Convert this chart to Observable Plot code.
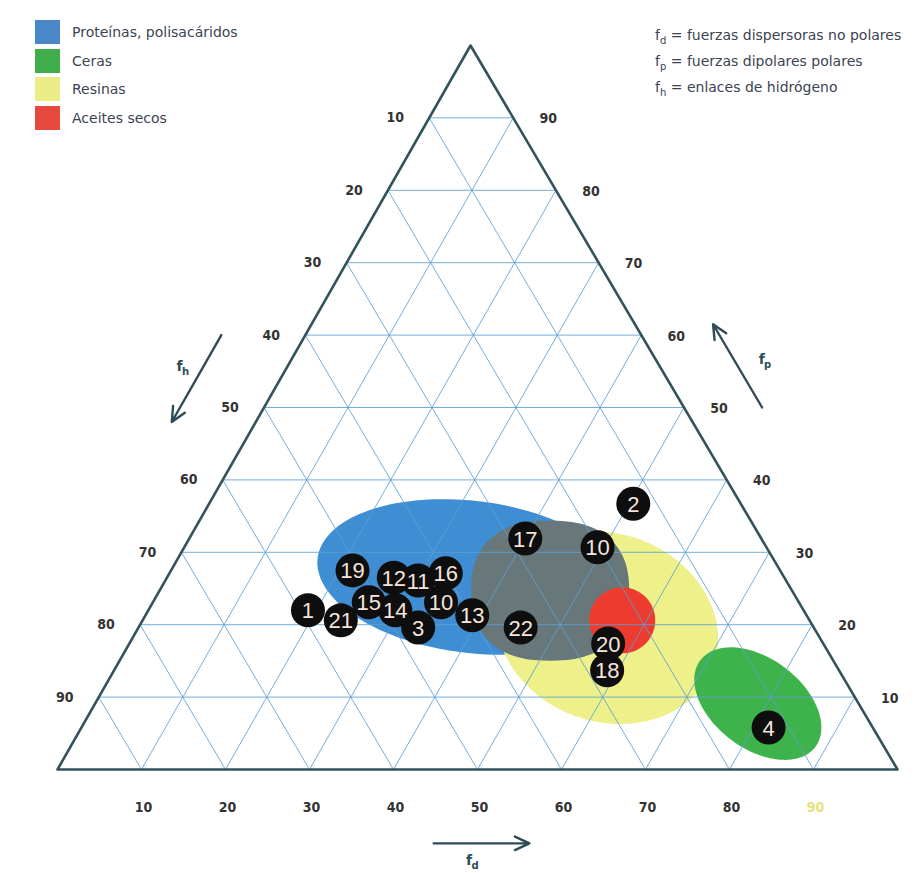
<!DOCTYPE html>
<html><head><meta charset="utf-8">
<script src="https://cdn.jsdelivr.net/npm/d3@7"></script>
<script src="https://cdn.jsdelivr.net/npm/@observablehq/plot@0.6"></script>
<style>
body{margin:0;background:#fff;font-family:"DejaVu Sans",sans-serif;}
#wrap{position:relative;width:921px;height:873px;overflow:hidden;}
#wrap svg{position:absolute;left:0;top:0;}
.legend{position:absolute;left:35px;top:18px;font-size:14px;color:#3b4452;font-family:"DejaVu Sans",sans-serif;}
.legend .row{display:flex;align-items:center;height:28.5px;}
.legend .sw{width:25px;height:24px;margin-right:12px;}
.notes{position:absolute;left:655px;top:22px;font-size:14px;color:#3b4452;font-family:"DejaVu Sans",sans-serif;}
.notes div{height:26px;line-height:26px;white-space:nowrap;}
.notes sub{font-size:10px;line-height:0;vertical-align:-4px;}
</style></head><body><div id="wrap"></div>
<script>
// ---- data ----
const tickValues = [10, 20, 30, 40, 50, 60, 70, 80, 90];

const pointLabels = ["2","17","10","19","12","11","16","1","21","15","14","3","10","13","22","20","18","4"];
const pointFd     = [50.5, 40.0, 49.2, 21.6, 27.0, 30.1, 32.9, 19.0, 23.6, 25.7, 29.4, 33.3, 34.3, 38.9, 45.5, 57.0, 58.7, 81.8];
const pointFp     = [36.7, 31.9, 30.7, 27.5, 26.5, 26.1, 27.1, 22.0, 20.6, 23.1, 22.0, 19.6, 23.1, 21.3, 19.6, 17.4, 13.7, 5.8];

const legendNames  = ["Proteínas, polisacáridos", "Ceras", "Resinas", "Aceites secos"];
const legendColors = ["#4a88c9", "#3fae4a", "#ecec86", "#e6493d"];

const noteSymbols = ["d", "p", "h"];
const noteTexts   = ["fuerzas dispersoras no polares", "fuerzas dipolares polares", "enlaces de hidrógeno"];

const regionNames = ["blue", "yellow", "grey", "red", "green"];
const regionFd    = [36.2, 55.8, 46.5, 57.1, 78.9];
const regionFp    = [26.6, 19.6, 24.7, 20.6, 9.1];

// ---- styles / geometry ----
const regionStyle = {
  blue:   {fill: "#3f8ed3", a: 155, b: 76, rot: 7,  n: 2},
  yellow: {fill: "#eef08a", a: 113, b: 94, rot: 20, n: 2},
  grey:   {fill: "#68787a", a: 79,  b: 70, rot: 0,  n: 2.4},
  red:    {fill: "#ee3b2f", a: 33,  b: 33, rot: 0,  n: 2},
  green:  {fill: "#3fb34b", a: 72,  b: 45, rot: 37, n: 2}
};
const PXX = 8.4, PXY = 7.24, K = 0.4917;
const tx = (fd, fp) => fd + K * fp;
const ty = (fd, fp) => fp;

const points = pointLabels.map((l, i) => ({label: l, fd: pointFd[i], fp: pointFp[i]}));

function outline(name, fd, fp) {
  const s = regionStyle[name];
  const th = s.rot * Math.PI / 180, e = 2 / s.n;
  const pts = [];
  for (let i = 0; i < 120; i++) {
    const t = i / 120 * 2 * Math.PI;
    const c = Math.cos(t), si = Math.sin(t);
    const ex = s.a * Math.sign(c) * Math.pow(Math.abs(c), e);
    const ey = s.b * Math.sign(si) * Math.pow(Math.abs(si), e);
    const dx = ex * Math.cos(th) - ey * Math.sin(th);
    const dy = ex * Math.sin(th) + ey * Math.cos(th);
    pts.push({x: tx(fd, fp) + dx / PXX, y: ty(fd, fp) - dy / PXY});
  }
  return pts;
}

// grid lines in ternary terms
const grid = [];
tickValues.forEach(k => {
  grid.push({fd1: 0, fp1: k, fd2: 100 - k, fp2: k});          // constant fp
  grid.push({fd1: k, fp1: 0, fd2: k, fp2: 100 - k});          // constant fd
  grid.push({fd1: 100 - k, fp1: 0, fd2: 0, fp2: 100 - k});    // constant fh
});
const border = [{fd: 0, fp: 0}, {fd: 100, fp: 0}, {fd: 0, fp: 100}];

const leftTicks = tickValues.map(k => ({k, fd: 0, fp: 100 - k}));
const rightTicks = tickValues.map(k => ({k, fd: 100 - k, fp: k}));
const bottomTicks = tickValues.map(k => ({k, fd: k, fp: 0}));

const arrows = [
  {fd1: -10, fp1: 60, fd2: -10, fp2: 48},        // f_h
  {fd1: 59.3, fp1: 50, fd2: 47.8, fp2: 61.5},    // f_p
  {fd1: 49.8, fp1: -10.2, fd2: 61.2, fp2: -10.2} // f_d
];
const arrowLabels = [
  {sub: "h", fd: -12.8, fp: 55.6},
  {sub: "p", fd: 56.0, fp: 56.6},
  {sub: "d", fd: 55.2, fp: -12.6}
];

const tickFont = "DejaVu Sans Condensed, DejaVu Sans";
const marks = [];
regionNames.forEach((n, i) => {
  marks.push(Plot.line(outline(n, regionFd[i], regionFp[i]), {
    x: "x", y: "y", curve: "linear-closed", fill: regionStyle[n].fill, stroke: "none"
  }));
});
marks.push(
  Plot.link(grid, {
    x1: d => tx(d.fd1, d.fp1), y1: d => ty(d.fd1, d.fp1),
    x2: d => tx(d.fd2, d.fp2), y2: d => ty(d.fd2, d.fp2),
    stroke: "#5d9fd3", strokeWidth: 1, strokeOpacity: 0.85
  }),
  Plot.line(border, {x: d => tx(d.fd, d.fp), y: d => ty(d.fd, d.fp), curve: "linear-closed",
    stroke: "#33525c", strokeWidth: 2.6, fill: "none"}),
  Plot.text(leftTicks, {x: d => tx(d.fd, d.fp), y: d => ty(d.fd, d.fp), text: d => String(d.k),
    dx: -34, dy: 0, fill: "#333", fontSize: 14, fontWeight: 600, fontFamily: tickFont}),
  Plot.text(rightTicks, {x: d => tx(d.fd, d.fp), y: d => ty(d.fd, d.fp), text: d => String(d.k),
    dx: 35, dy: 1, fill: "#333", fontSize: 14, fontWeight: 600, fontFamily: tickFont}),
  Plot.text(bottomTicks, {x: d => tx(d.fd, d.fp), y: d => ty(d.fd, d.fp), text: d => String(d.k),
    dx: 2, dy: 38, fill: d => d.k === 90 ? "#e6e27a" : "#333", fontSize: 14, fontWeight: 600,
    fontFamily: tickFont}),
  Plot.arrow(arrows, {
    x1: d => tx(d.fd1, d.fp1), y1: d => ty(d.fd1, d.fp1),
    x2: d => tx(d.fd2, d.fp2), y2: d => ty(d.fd2, d.fp2),
    stroke: "#2e4c57", strokeWidth: 2.4, headLength: 10, headAngle: 50
  }),
  Plot.text(arrowLabels, {x: d => tx(d.fd, d.fp), y: d => ty(d.fd, d.fp), text: () => "f",
    fill: "#2e4c57", fontSize: 14, fontWeight: 600, fontFamily: "DejaVu Sans"}),
  Plot.text(arrowLabels, {x: d => tx(d.fd, d.fp), y: d => ty(d.fd, d.fp), text: "sub",
    dx: 6, dy: 5, fill: "#2e4c57", fontSize: 10, fontWeight: 600, fontFamily: "DejaVu Sans"}),
  Plot.dot(points, {x: d => tx(d.fd, d.fp), y: d => ty(d.fd, d.fp), r: 17, fill: "#0e0e0e", stroke: "none"}),
  Plot.text(points, {x: d => tx(d.fd, d.fp), y: d => ty(d.fd, d.fp), text: "label",
    fill: "#f6e4dc", fontSize: 22, fontFamily: "Liberation Sans, Arial", dy: 1})
);

const chart = Plot.plot({
  width: 921, height: 873,
  marginTop: 0, marginRight: 0, marginBottom: 0, marginLeft: 0,
  x: {domain: [-57 / PXX, 864 / PXX], axis: null},
  y: {domain: [-104 / PXY, 769 / PXY], axis: null},
  style: {background: "#fff", overflow: "visible"},
  marks
});
const wrap = document.getElementById("wrap");
wrap.appendChild(chart);

const legend = document.createElement("div");
legend.className = "legend";
legend.innerHTML = legendNames.map((n, i) =>
  `<div class="row"><div class="sw" style="background:${legendColors[i]}"></div><span>${n}</span></div>`).join("");
wrap.appendChild(legend);

const notes = document.createElement("div");
notes.className = "notes";
notes.innerHTML = noteSymbols.map((s, i) => `<div>f<sub>${s}</sub> = ${noteTexts[i]}</div>`).join("");
wrap.appendChild(notes);
</script></body></html>
